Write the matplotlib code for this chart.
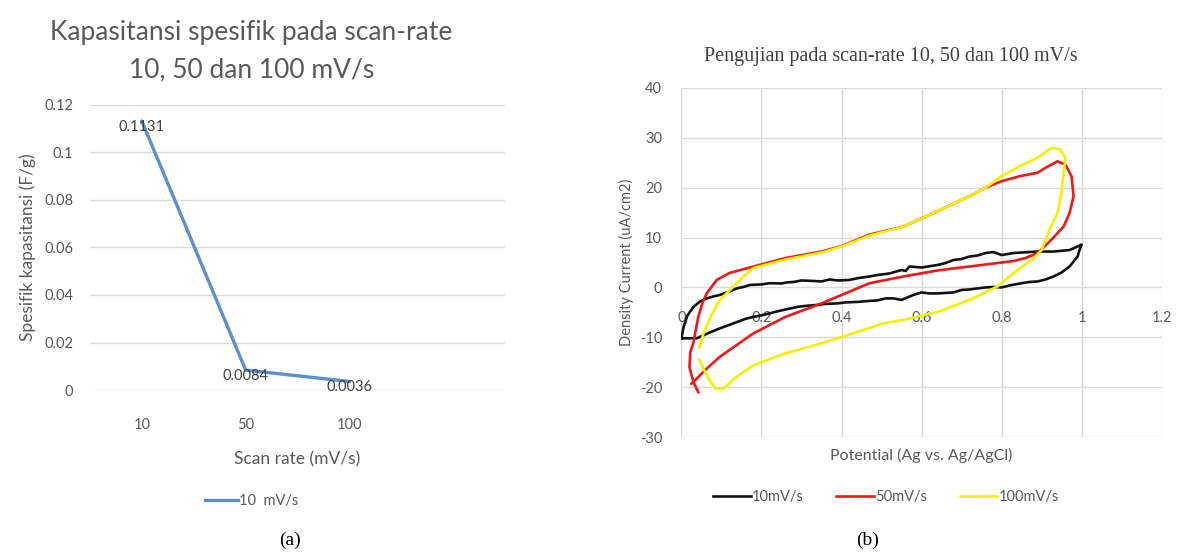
import matplotlib
matplotlib.use('Agg')
import matplotlib.pyplot as plt

plt.rcParams['font.family'] = ['Lato', 'DejaVu Sans']
plt.rcParams['axes.unicode_minus'] = False

# (a) specific capacitance per scan rate
scan_rates = ['10', '50', '100']
capacitance = [0.1131, 0.0084, 0.0036]
cap_labels = ['0.1131', '0.0084', '0.0036']

# (b) cyclic voltammograms (potential V, current uA/cm2)
cv10_x = [0.0, 0.005, 0.015, 0.03, 0.045, 0.063, 0.08, 0.096, 0.12, 0.138, 0.155, 0.171, 0.2, 0.22,
          0.25, 0.263, 0.28, 0.30, 0.33, 0.35, 0.37, 0.39, 0.42, 0.44, 0.47, 0.49, 0.52, 0.55, 0.56,
          0.57, 0.60, 0.64, 0.66, 0.68, 0.70, 0.72, 0.74, 0.76, 0.78, 0.80, 0.83, 0.85, 0.89, 0.93,
          0.97, 0.99, 1.0, 0.995, 0.99, 0.97, 0.95, 0.93, 0.91, 0.89, 0.87, 0.85, 0.82, 0.80, 0.78,
          0.76, 0.74, 0.72, 0.70, 0.68, 0.66, 0.64, 0.62, 0.60, 0.58, 0.55, 0.53, 0.51, 0.49, 0.47,
          0.44, 0.41, 0.39, 0.36, 0.34, 0.31, 0.29, 0.25, 0.22, 0.20, 0.18, 0.16, 0.14, 0.12, 0.096,
          0.075, 0.055, 0.038, 0.02, 0.0]
cv10_y = [-10.2, -8.0, -5.6, -3.9, -2.9, -2.2, -1.8, -1.5, -0.8, -0.2, 0.1, 0.5, 0.6, 0.85,
          0.8, 1.0, 1.1, 1.4, 1.3, 1.2, 1.6, 1.4, 1.5, 1.85, 2.2, 2.5, 2.8, 3.5, 3.3,
          4.2, 4.0, 4.5, 4.9, 5.5, 5.7, 6.2, 6.4, 6.9, 7.1, 6.5, 6.9, 7.0, 7.2, 7.2,
          7.5, 8.2, 8.6, 7.5, 6.2, 4.2, 3.0, 2.2, 1.6, 1.2, 1.1, 0.85, 0.4, 0.0, 0.1,
          0.0, -0.2, -0.4, -0.5, -1.0, -1.1, -1.2, -1.2, -1.0, -1.5, -2.5, -2.2, -2.2, -2.6, -2.7,
          -2.9, -3.0, -3.2, -3.3, -3.5, -3.7, -3.9, -4.6, -5.2, -5.6, -5.9, -6.3, -6.9, -7.5, -8.2,
          -8.9, -9.6, -10.2, -10.2, -10.2]

cv50_x = [0.042, 0.03, 0.02, 0.022, 0.03, 0.042, 0.053, 0.063, 0.088, 0.12, 0.18, 0.26, 0.35, 0.40,
          0.47, 0.555, 0.64, 0.72, 0.76, 0.80, 0.845, 0.89, 0.91, 0.94, 0.96, 0.975, 0.98, 0.97,
          0.955, 0.925, 0.89, 0.86, 0.83, 0.80, 0.72, 0.64, 0.555, 0.47, 0.43, 0.35, 0.26, 0.18,
          0.096, 0.06, 0.038, 0.025]
cv50_y = [-21.0, -19.0, -16.0, -13.0, -11.0, -5.9, -3.0, -1.2, 1.5, 2.9, 4.2, 5.9, 7.2, 8.3,
          10.6, 12.2, 15.3, 18.3, 20.0, 21.3, 22.3, 23.0, 24.0, 25.3, 24.6, 22.3, 18.3, 14.9,
          12.2, 9.6, 6.9, 5.9, 5.3, 5.0, 4.2, 3.4, 2.2, 0.85, -0.5, -3.2, -5.9, -9.2,
          -13.9, -16.5, -18.3, -19.3]

cv100_x = [0.045, 0.055, 0.075, 0.096, 0.13, 0.155, 0.18, 0.26, 0.35, 0.40, 0.47, 0.555, 0.64,
           0.72, 0.76, 0.80, 0.845, 0.89, 0.925, 0.946, 0.96, 0.955, 0.95, 0.94, 0.92, 0.90, 0.88,
           0.84, 0.79, 0.72, 0.64, 0.555, 0.50, 0.43, 0.35, 0.26, 0.18, 0.138, 0.105, 0.085,
           0.065, 0.045]
cv100_y = [-12.0, -9.2, -5.5, -2.5, 0.2, 2.2, 3.9, 5.6, 7.0, 8.2, 10.4, 12.2, 15.3,
           18.3, 20.0, 22.3, 24.3, 26.0, 28.0, 27.7, 26.0, 23.0, 19.0, 14.9, 11.6, 7.5, 5.8,
           3.5, 0.2, -2.5, -4.9, -6.5, -7.3, -9.2, -11.2, -13.2, -15.6, -17.9, -20.3, -20.3,
           -18.0, -14.5]

grid_c = '#d9d9d9'
text_c = '#595959'

fig = plt.figure(figsize=(11.86, 5.58), dpi=100)

# ---- (a)
ax1 = fig.add_axes([0.0759, 0.301, 0.35, 0.511])
pos = list(range(len(scan_rates)))
ax1.plot(pos, capacitance, color='#5b8fd0', lw=2.4, label='10  mV/s')
for p, v, s in zip(pos, capacitance, cap_labels):
    ax1.annotate(s, (p, v), xytext=(0, -4), textcoords='offset points',
                 ha='center', va='center', fontsize=10.5, color='#404040')
ax1.set_xlim(-0.5, 3.5)
ax1.set_ylim(0, 0.12)
ax1.set_xticks(pos)
ax1.set_xticklabels(scan_rates)
ax1.set_yticks([0, 0.02, 0.04, 0.06, 0.08, 0.1, 0.12])
ax1.set_yticklabels(['0', '0.02', '0.04', '0.06', '0.08', '0.1', '0.12'])
ax1.yaxis.grid(True, color=grid_c, lw=1)
ax1.set_axisbelow(True)
for sp in ax1.spines.values():
    sp.set_visible(False)
ax1.tick_params(length=0, labelsize=10.5, labelcolor=text_c)
ax1.tick_params(axis='x', pad=20)
ax1.tick_params(axis='y', pad=12)
ax1.set_xlabel('Scan rate (mV/s)', fontsize=12.5, color=text_c, labelpad=14)
ax1.set_ylabel('Spesifik kapasitansi (F/g)', fontsize=12.5, color=text_c, labelpad=6)
ax1.legend(loc='upper center', bbox_to_anchor=(0.39, -0.32), frameon=False,
           fontsize=10.5, labelcolor=text_c, handlelength=2.2, handletextpad=0.1)
fig.text(0.212, 0.941, 'Kapasitansi spesifik pada scan-rate', ha='center', va='center',
         fontsize=19, color=text_c)
fig.text(0.212, 0.874, '10, 50 dan 100 mV/s', ha='center', va='center',
         fontsize=19, color=text_c)

# ---- (b)
ax2 = fig.add_axes([0.5746, 0.2168, 0.4048, 0.6255])
ax2.plot(cv10_x, cv10_y, color='#111111', lw=1.9, label='10mV/s')
ax2.plot(cv50_x, cv50_y, color='#f01818', lw=1.9, label='50mV/s')
ax2.plot(cv100_x, cv100_y, color='#f2f200', lw=1.9, label='100mV/s')
ax2.set_xlim(0, 1.2)
ax2.set_ylim(-30, 40)
ax2.set_xticks([0, 0.2, 0.4, 0.6, 0.8, 1.0, 1.2])
ax2.set_xticklabels(['0', '0.2', '0.4', '0.6', '0.8', '1', '1.2'])
ax2.set_yticks(range(-30, 41, 10))
ax2.grid(True, color=grid_c, lw=1)
ax2.set_axisbelow(True)
for sp in ax2.spines.values():
    sp.set_visible(False)
ax2.spines['bottom'].set_position(('data', 0))
ax2.tick_params(length=0, labelsize=10.5, labelcolor=text_c)
ax2.tick_params(axis='x', pad=17)
ax2.tick_params(axis='y', pad=14)
ax2.set_ylabel('Density Current (uA/cm2)', fontsize=10.5, color=text_c, labelpad=4)
ax2.text(0.5, -0.03, 'Potential (Ag vs. Ag/AgCl)', transform=ax2.transAxes,
         ha='center', va='top', fontsize=11.5, color=text_c)
ax2.legend(loc='upper center', bbox_to_anchor=(0.426, -0.115), ncol=3, frameon=False,
           fontsize=10.5, labelcolor=text_c, handlelength=2.6, handletextpad=0.1,
           columnspacing=2.2)
fig.text(0.751, 0.899, 'Pengujian pada scan-rate 10, 50 dan 100 mV/s', ha='center',
         va='center', fontsize=14.5, color='#404040', family='Liberation Serif')

# panel letters
fig.text(0.2445, 0.032, '(a)', ha='center', va='center', fontsize=14, family='Liberation Serif')
fig.text(0.7318, 0.032, '(b)', ha='center', va='center', fontsize=14, family='Liberation Serif')

fig.savefig('out.png', dpi=100, facecolor='white')
